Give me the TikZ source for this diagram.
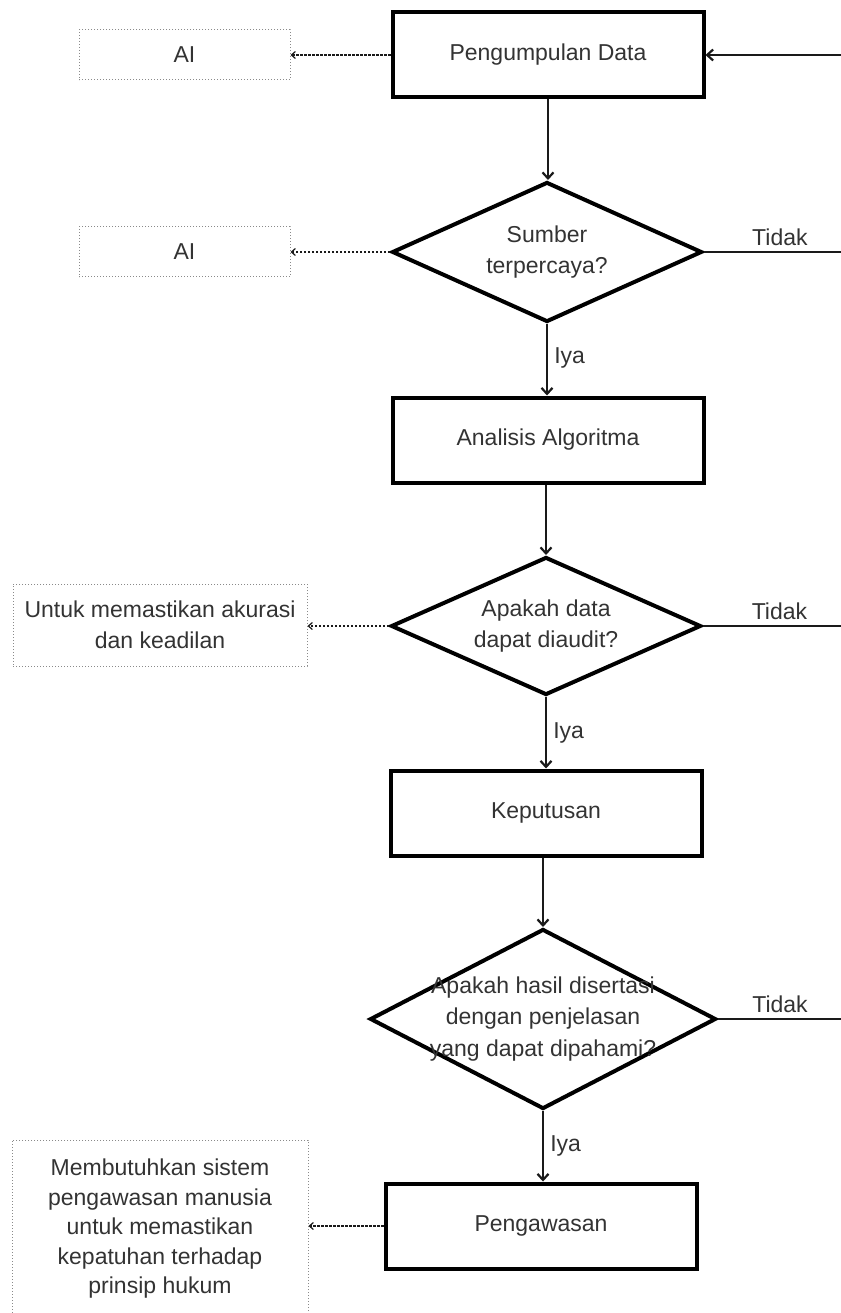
\documentclass[tikz,border=0pt]{standalone}
\usepackage{fontspec}
\setmainfont{Liberation Sans}
\usetikzlibrary{shapes.geometric,arrows.meta}
\definecolor{txt}{HTML}{333333}
\definecolor{dotgray}{HTML}{8A8A8A}
\definecolor{conn}{HTML}{1A1A1A}
\begin{document}
\begin{tikzpicture}[x=1pt,y=-1pt,
  every node/.style={font=\fontsize{23}{31.5}\selectfont, text=txt, align=center},
  procbox/.style={draw=black, line width=4pt, minimum width=311pt, minimum height=85pt, inner sep=0pt},
  decision/.style={diamond, draw=black, line width=4pt, inner sep=0pt},
  notebox/.style={draw=dotgray, dotted, line width=1pt, inner sep=0pt},
  flow/.style={draw=conn, line width=2.5pt, -{Straight Barb[length=6pt,width=11pt,line width=2.2pt]}},
  plainline/.style={draw=conn, line width=2.5pt},
  noteline/.style={draw=conn, line width=1.5pt, dash pattern=on 2.5pt off 1.5pt, -{Straight Barb[length=4pt,width=7pt,line width=1.2pt]}},
  tlbl/.style={above, inner sep=5pt},
  ilbl/.style={right, inner sep=6pt}
]
\useasboundingbox (0,0) rectangle (840,1313);

% main flow nodes
\node[procbox] (b1) at (548,55) {Pengumpulan Data};
\node[decision, minimum width=310pt, minimum height=140pt] (d1) at (547,252) {};
\node (d1t) at (d1.center) {Sumber\\terpercaya?};
\node[procbox] (b2) at (548,440) {Analisis Algoritma};
\node[decision, minimum width=310pt, minimum height=138pt] (d2) at (546,626) {};
\node (d2t) at (d2.center) {Apakah data\\dapat diaudit?};
\node[procbox] (b3) at (546,813) {Keputusan};
\node[decision, minimum width=346pt, minimum height=180pt] (d3) at (543,1019) {};
\node (d3t) at (d3.center) {Apakah hasil disertasi\\dengan penjelasan\\yang dapat dipahami?};
\node[procbox] (b4) at (541,1226) {Pengawasan};

% note boxes
\node[notebox, minimum width=211pt, minimum height=50pt] (n1) at (184.5,55) {AI};
\node[notebox, minimum width=211pt, minimum height=50pt] (n2) at (184.5,252) {AI};
\node[notebox, minimum width=294pt, minimum height=82pt] (n3) at (160,625) {Untuk memastikan akurasi\\dan keadilan};
\node[notebox, minimum width=296pt, minimum height=178pt, font=\fontsize{23}{29.5}\selectfont] (n4) at (160,1229) {Membutuhkan sistem\\pengawasan manusia\\untuk memastikan\\kepatuhan terhadap\\prinsip hukum};

% right-edge coordinates
\coordinate (r0) at (842,55);
\coordinate (r1) at (842,252);
\coordinate (r2) at (842,626);
\coordinate (r3) at (842,1019);

% vertical flow
\draw[flow] (b1.south) -- (b1.south |- d1.north);
\draw[flow] (d1.south) -- node[ilbl, pos=0.47] {Iya} (d1.south |- b2.north);
\draw[flow] (b2.south -| d2.north) -- (d2.north);
\draw[flow] (d2.south) -- node[ilbl, pos=0.5] {Iya} (d2.south |- b3.north);
\draw[flow] (b3.south -| d3.north) -- (d3.north);
\draw[flow] (d3.south) -- node[ilbl, pos=0.5] {Iya} (d3.south |- b4.north);

% feedback and Tidak branches
\draw[flow] (r0) -- (b1.east);
\draw[plainline] (d1.east) -- node[tlbl, pos=0.55] {Tidak} (r1);
\draw[plainline] (d2.east) -- node[tlbl, pos=0.55] {Tidak} (r2);
\draw[plainline] (d3.east) -- node[tlbl, pos=0.5] {Tidak} (r3);

% note connectors
\draw[noteline] (b1.west) -- (n1.east);
\draw[noteline] (d1.west) -- (n2.east);
\draw[noteline] (d2.west) -- (n3.east |- d2.west);
\draw[noteline] (b4.west) -- (n4.east |- b4.west);
\end{tikzpicture}
\end{document}
